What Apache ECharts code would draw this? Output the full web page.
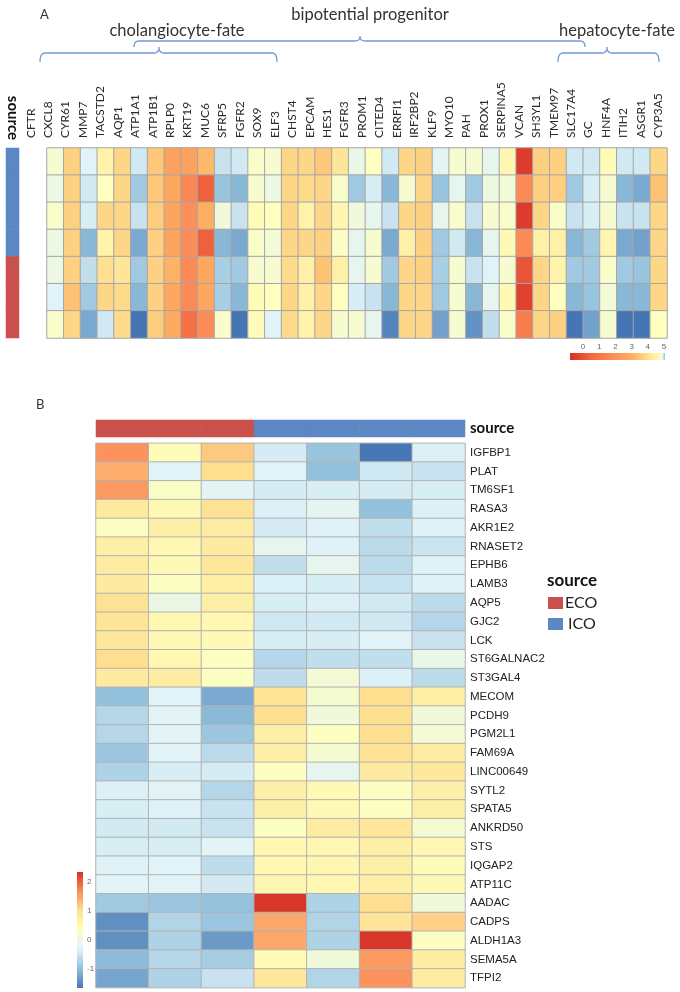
<!DOCTYPE html>
<html><head><meta charset="utf-8">
<script src="https://cdn.jsdelivr.net/npm/echarts@6/dist/echarts.min.js"></script>
<style>html,body{margin:0;padding:0;background:#fff}#c{width:680px;height:992px}</style>
</head><body><div id="c"></div><script>
// ---------- DATA ----------
const genesA = ['CFTR','CXCL8','CYR61','MMP7','TACSTD2','AQP1','ATP1A1','ATP1B1','RPLP0','KRT19','MUC6','SFRP5','FGFR2','SOX9','ELF3','CHST4','EPCAM','HES1','FGFR3','PROM1','CITED4','ERRFI1','IRF2BP2','KLF9','MYO10','PAH','PROX1','SERPINA5','VCAN','SH3YL1','TMEM97','SLC17A4','GC','HNF4A','ITIH2','ASGR1','CYP3A5'];
const rowsA = ['S1','S2','S3','S4','S5','S6','S7'];
const sourceLevels = ['ECO','ICO'];
const sourceA = ['ICO','ICO','ICO','ICO','ECO','ECO','ECO'];
const valuesA = [
 [5.3,3.7,6.0,4.6,3.8,6.2,3.5,2.6,2.6,3.2,6.3,6.2,5.2,5.3,3.8,3.8,3.5,4.2,5.7,5.0,6.2,3.8,3.7,5.9,5.3,5.3,5.8,4.7,0.2,3.7,3.7,6.2,6.2,4.9,6.2,6.2,3.8],
 [5.6,3.7,6.2,5.0,3.8,6.8,3.5,2.8,1.8,0.8,6.9,7.1,5.3,5.6,3.8,3.9,3.8,5.2,6.8,6.1,7.1,5.3,3.8,6.9,5.8,6.8,5.6,5.4,1.9,3.7,3.7,6.8,6.1,5.3,7.1,7.3,3.4],
 [5.2,3.7,6.1,3.8,3.8,6.3,3.6,2.7,2.1,3.0,5.5,6.3,4.9,5.0,3.8,4.6,3.8,4.7,5.5,5.8,6.3,3.8,3.7,5.8,5.2,6.3,5.3,5.2,0.2,3.8,5.2,6.3,6.1,5.3,6.3,6.3,3.8],
 [5.6,3.7,7.1,4.6,3.8,7.3,3.7,2.7,2.0,0.8,7.1,7.3,5.2,5.4,3.8,3.8,3.7,5.1,5.8,5.3,7.3,4.5,3.7,6.8,6.2,7.1,5.8,4.8,1.9,4.5,4.5,7.1,6.8,4.7,7.3,7.4,3.8],
 [5.6,3.7,6.4,4.0,4.2,6.8,3.7,3.1,1.9,2.8,6.7,6.8,5.3,5.3,3.9,4.5,3.4,4.5,5.8,5.3,6.8,3.8,3.7,6.7,5.3,6.3,6.0,5.3,0.6,3.8,4.6,6.8,6.8,5.2,6.8,6.9,3.8],
 [6.0,3.4,6.8,3.8,3.9,7.1,3.7,2.8,1.9,2.8,6.7,7.1,4.9,5.0,3.8,4.5,3.8,5.0,6.1,6.3,7.1,3.8,3.8,6.8,5.3,7.1,5.8,4.8,0.3,3.8,5.0,7.1,6.9,5.4,7.1,7.1,3.8],
 [5.2,3.8,7.3,6.2,3.9,8.0,3.6,2.9,1.1,2.0,5.2,8.0,4.9,6.0,3.9,4.6,3.8,5.3,5.3,5.8,7.8,3.8,3.8,7.4,5.3,7.6,6.4,5.2,1.5,3.8,3.7,8.0,7.4,5.3,8.0,8.1,5.0]
];
const ticksA = [0,1,2,3,4,5];

const samplesB = ['ECO-1','ECO-2','ECO-3','ICO-1','ICO-2','ICO-3','ICO-4'];
const sourceB = ['ECO','ECO','ECO','ICO','ICO','ICO','ICO'];
const genesB = ['IGFBP1','PLAT','TM6SF1','RASA3','AKR1E2','RNASET2','EPHB6','LAMB3','AQP5','GJC2','LCK','ST6GALNAC2','ST3GAL4','MECOM','PCDH9','PGM2L1','FAM69A','LINC00649','SYTL2','SPATA5','ANKRD50','STS','IQGAP2','ATP11C','AADAC','CADPS','ALDH1A3','SEMA5A','TFPI2'];
const valuesB = [
 [1.63,0.41,1.19,-0.42,-0.92,-1.64,-0.36],
 [1.41,-0.31,1.02,-0.31,-0.97,-0.47,-0.53],
 [1.58,0.25,-0.28,-0.42,-0.39,-0.42,-0.39],
 [0.80,0.47,0.97,-0.36,-0.23,-0.97,-0.36],
 [0.30,0.69,0.74,-0.42,-0.34,-0.59,-0.34],
 [0.69,0.52,0.77,-0.20,-0.34,-0.64,-0.50],
 [0.74,0.47,0.85,-0.59,-0.20,-0.64,-0.34],
 [0.77,0.30,0.69,-0.36,-0.39,-0.55,-0.34],
 [0.97,-0.09,0.69,-0.39,-0.36,-0.45,-0.64],
 [0.91,0.52,0.52,-0.47,-0.45,-0.47,-0.70],
 [0.85,0.47,0.47,-0.39,-0.39,-0.30,-0.53],
 [1.02,0.52,0.30,-0.70,-0.59,-0.59,-0.14],
 [0.77,0.74,0.30,-0.61,0.08,-0.36,-0.64],
 [-0.97,-0.31,-1.19,0.91,0.13,1.02,0.69],
 [-0.70,-0.31,-1.05,1.02,0.02,1.02,0.02],
 [-0.70,-0.30,-0.90,0.69,0.30,1.02,0.08],
 [-0.90,-0.31,-0.64,0.69,0.13,0.97,0.74],
 [-0.75,-0.39,-0.42,0.30,-0.20,0.77,0.83],
 [-0.36,-0.30,-0.70,0.69,0.47,0.30,0.69],
 [-0.39,-0.34,-0.53,0.69,0.47,0.30,0.69],
 [-0.44,-0.44,-0.53,0.30,0.74,0.85,0.13],
 [-0.39,-0.39,-0.29,0.52,0.52,0.69,0.52],
 [-0.34,-0.33,-0.61,0.52,0.54,0.69,0.43],
 [-0.29,-0.30,-0.44,0.54,0.52,0.69,0.47],
 [-0.86,-0.90,-0.95,2.30,-0.75,1.02,0.02],
 [-1.42,-0.72,-0.90,1.46,-0.72,0.91,1.13],
 [-1.42,-0.75,-1.33,1.46,-0.75,2.30,0.30],
 [-1.03,-0.70,-0.81,0.43,0.02,1.58,0.74],
 [-1.23,-0.75,-0.53,0.85,-0.72,1.63,0.74]
];
const ticksB = [-1,0,1,2];
const rangeB = [-1.66, 2.34];
const rangeA = [0, 8];

// ---------- STYLE ----------
const paletteA = ['#d73027','#f46d43','#fc8d59','#fdae61','#fee090','#ffffbf','#e0f3f8','#91bfdb','#4575b4'];
const paletteB = ['#4575b4','#91bfdb','#e0f3f8','#ffffbf','#fee090','#fc8d59','#d73027'];
const srcColors = {ECO:'#c9504b', ICO:'#5b87c4'};
const braceColor = '#6e9bd3';
const fontCal = 'Lato, "Open Sans", sans-serif';
const fontAr = '"Liberation Sans", Arial, sans-serif';

// ---------- BUILD ----------
const heatA = [];
valuesA.forEach((row, r) => row.forEach((v, c) => heatA.push([c, r, v])));
const heatB = [];
valuesB.forEach((row, r) => row.forEach((v, c) => heatB.push([c, r, v])));
const srcA = sourceA.map((s, r) => [0, r, sourceLevels.indexOf(s)]);
const srcB = sourceB.map((s, c) => [c, 0, sourceLevels.indexOf(s)]);

function bracePts(x1, x2, xm, y, drop, tip) {
  const pts = [];
  const q = (p0, p1, p2) => { for (let i = 0; i <= 8; i++) { const t = i / 8;
    pts.push([(1-t)*(1-t)*p0[0]+2*(1-t)*t*p1[0]+t*t*p2[0], (1-t)*(1-t)*p0[1]+2*(1-t)*t*p1[1]+t*t*p2[1]]); } };
  const r = 5;
  q([x1, y+drop], [x1, y], [x1+r, y]);
  q([xm-r, y], [xm, y], [xm, y-tip]);
  q([xm, y-tip], [xm, y], [xm+r, y]);
  q([x2-r, y], [x2, y], [x2, y+drop]);
  return pts;
}
const none = {show:false};
const hiddenCat = (data, grid, inverse) => ({type:'category', data, gridIndex:grid, inverse:!!inverse, axisLine:none, axisTick:none, axisLabel:none, splitLine:none});
const hiddenVal = (grid) => ({type:'value', gridIndex:grid, show:false, splitLine:none});
const G = (left, top, width, height) => ({left, top, width, height, containLabel:false, outerBoundsMode:'none'});

const chart = echarts.init(document.getElementById('c'), null, {renderer:'canvas'});
chart.setOption({
  backgroundColor:'#fff',
  animation:false,
  grid:[
    G(47, 148, 620, 190),      // 0 heat A
    G(22, 141, 645, 1),        // 1 gene labels A
    G(6, 148, 13, 190),        // 2 source bar A
    G(96, 420, 369, 17),       // 3 source bar B
    G(96, 443.3, 369, 544.3),  // 4 heat B
    G(583, 353, 81, 7),        // 5 colorbar A ticks
    G(77, 882, 6, 87)          // 6 colorbar B ticks
  ],
  xAxis:[
    hiddenCat(genesA, 0),
    {type:'category', data:genesA, gridIndex:1, position:'top', axisLine:none, axisTick:none, splitLine:none,
      axisLabel:{rotate:90, fontSize:12, fontFamily:fontCal, color:'#2a2a2a', margin:3, interval:0}},
    {type:'category', data:['source'], gridIndex:2, position:'top', axisLine:none, axisTick:none, splitLine:none,
      axisLabel:{rotate:90, fontSize:15, fontWeight:'bold', fontFamily:fontCal, color:'#111', margin:8}},
    hiddenCat(samplesB, 3),
    hiddenCat(samplesB, 4),
    {type:'value', gridIndex:5, min:ticksA[0], max:ticksA[ticksA.length-1], interval:1, position:'top',
      axisLine:none, axisTick:none, splitLine:none, axisLabel:{fontSize:8, color:'#666', margin:2, fontFamily:fontAr}},
    hiddenVal(6)
  ],
  yAxis:[
    hiddenCat(rowsA, 0, true),
    hiddenVal(1),
    hiddenCat(rowsA, 2, true),
    {type:'category', data:['source'], gridIndex:3, position:'right', axisLine:none, axisTick:none, splitLine:none,
      axisLabel:{fontSize:15, fontWeight:'bold', fontFamily:fontCal, color:'#111', margin:5}},
    {type:'category', data:genesB, gridIndex:4, inverse:true, position:'right', axisLine:none, axisTick:none, splitLine:none,
      axisLabel:{fontSize:11.5, fontFamily:fontAr, color:'#222', margin:5, interval:0}},
    hiddenVal(5),
    {type:'value', gridIndex:6, min:ticksB[0], max:ticksB[ticksB.length-1], interval:1, position:'right',
      axisLine:none, axisTick:none, splitLine:none, axisLabel:{fontSize:8, color:'#666', margin:4, fontFamily:fontAr}}
  ],
  visualMap:[
    {type:'continuous', seriesIndex:0, dimension:2, min:rangeA[0], max:rangeA[1], show:false, inRange:{color:paletteA}},
    {type:'continuous', seriesIndex:3, dimension:2, min:rangeB[0], max:rangeB[1], show:false, inRange:{color:paletteB}},
    {type:'piecewise', seriesIndex:[1,2], dimension:2, show:false,
      pieces: sourceLevels.map((s, i) => ({value:i, color:srcColors[s]}))}
  ],
  series:[
    {type:'heatmap', xAxisIndex:0, yAxisIndex:0, data:heatA, itemStyle:{borderColor:'#a6a6a6', borderWidth:1}, emphasis:{disabled:true}},
    {type:'heatmap', xAxisIndex:2, yAxisIndex:2, data:srcA, emphasis:{disabled:true}},
    {type:'heatmap', xAxisIndex:3, yAxisIndex:3, data:srcB, emphasis:{disabled:true}},
    {type:'heatmap', xAxisIndex:4, yAxisIndex:4, data:heatB, itemStyle:{borderColor:'#b3b3b3', borderWidth:1}, emphasis:{disabled:true}}
  ],
  graphic:[
    {type:'text', x:40, y:15, style:{text:'A', fontSize:13, fontFamily:fontCal, fill:'#333', textVerticalAlign:'middle'}},
    {type:'text', x:370, y:15, style:{text:'bipotential progenitor', fontSize:16.5, fontFamily:fontCal, fill:'#333', textAlign:'center', textVerticalAlign:'middle'}},
    {type:'text', x:177, y:31, style:{text:'cholangiocyte-fate', fontSize:16.5, fontFamily:fontCal, fill:'#333', textAlign:'center', textVerticalAlign:'middle'}},
    {type:'text', x:617, y:31, style:{text:'hepatocyte-fate', fontSize:16.5, fontFamily:fontCal, fill:'#333', textAlign:'center', textVerticalAlign:'middle'}},
    {type:'polyline', shape:{points:bracePts(134, 585, 360, 41, 6, 5)}, style:{stroke:braceColor, lineWidth:1.3, fill:null}},
    {type:'polyline', shape:{points:bracePts(40, 277, 159, 53, 9, 6)}, style:{stroke:braceColor, lineWidth:1.3, fill:null}},
    {type:'polyline', shape:{points:bracePts(558, 659, 607, 53, 9, 6)}, style:{stroke:braceColor, lineWidth:1.3, fill:null}},
    // colorbar A
    {type:'rect', shape:{x:570, y:353, width:95, height:7}, style:{fill:{type:'linear', x:0, y:0, x2:1, y2:0, colorStops:[
      {offset:0, color:'#d73027'},{offset:0.25, color:'#f46d43'},{offset:0.45, color:'#fc8d59'},{offset:0.65, color:'#fdae61'},
      {offset:0.82, color:'#fee090'},{offset:0.965, color:'#ffffbf'},{offset:0.975, color:'#e0f3f8'},{offset:1, color:'#91bfdb'}]}}},
    // panel B
    {type:'text', x:36, y:405, style:{text:'B', fontSize:13, fontFamily:fontCal, fill:'#333', textVerticalAlign:'middle'}},
    {type:'rect', shape:{x:77, y:872, width:6, height:116}, style:{fill:{type:'linear', x:0, y:1, x2:0, y2:0,
      colorStops: paletteB.map((c, i) => ({offset:i/(paletteB.length-1), color:c}))}}},
    {type:'text', x:547, y:581, style:{text:'source', fontSize:17, fontWeight:'bold', fontFamily:fontCal, fill:'#111', textVerticalAlign:'middle'}},
    {type:'rect', shape:{x:548, y:597, width:15, height:12}, style:{fill:srcColors.ECO}},
    {type:'text', x:565, y:603, style:{text:'ECO', fontSize:16, fontFamily:fontCal, fill:'#222', textVerticalAlign:'middle'}},
    {type:'rect', shape:{x:548, y:618, width:15, height:12}, style:{fill:srcColors.ICO}},
    {type:'text', x:568, y:624, style:{text:'ICO', fontSize:16, fontFamily:fontCal, fill:'#222', textVerticalAlign:'middle'}}
  ]
});
</script></body></html>
